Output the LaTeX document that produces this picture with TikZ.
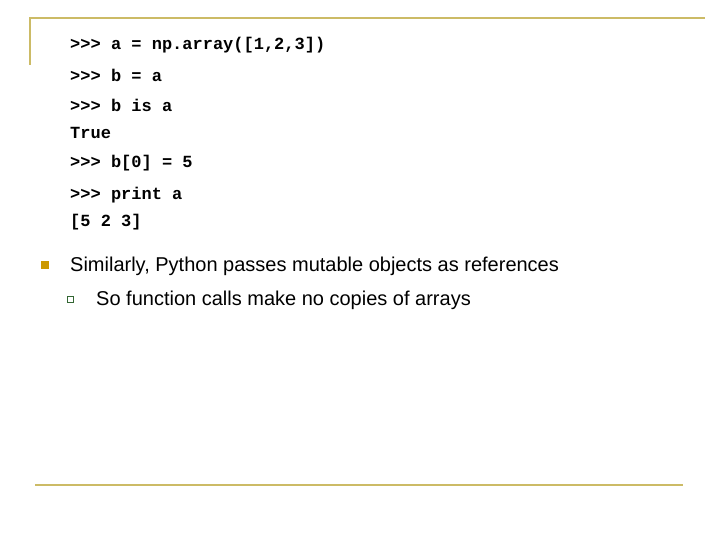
\documentclass[tikz,border=0pt]{standalone}
\usepackage{fontspec}
\setmainfont{Liberation Sans}
\newfontfamily\codefont{Liberation Mono}
\definecolor{olive}{RGB}{204,187,102}
\definecolor{gold}{RGB}{204,153,0}
\definecolor{bgreen}{RGB}{51,102,51}
\begin{document}
\begin{tikzpicture}[x=1pt,y=-1pt,
  code/.style={anchor=west,inner sep=0pt,font=\codefont\bfseries\fontsize{17}{20}\selectfont},
  txt/.style={anchor=west,inner sep=0pt,font=\fontsize{20}{24}\selectfont}]
\useasboundingbox (0,0) rectangle (720,540);
\draw[olive,line width=2pt] (30,65) -- (30,18) -- (705,18);
\draw[olive,line width=2pt] (35,485) -- (683,485);
\node[code] (l1) at (70,45) {>>> a = np.array([1,2,3])};
\node[code] (l2) at (70,75) {>>> b = a};
\node[code] (l3) at (70,105) {>>> b is a};
\node[code] (l4) at (70,133) {True};
\node[code] (l5) at (70,163) {>>> b[0] = 5};
\node[code] (l6) at (70,195) {>>> print a};
\node[code] (l7) at (70,222) {[5 2 3]};
\fill[gold] (41,261) rectangle ++(8,8);
\node[txt] (t1) at (70,266) {Similarly, Python passes mutable objects as references};
\draw[bgreen,line width=0.8pt] (67.5,296.5) rectangle ++(6,6);
\node[txt] (t2) at (96,300) {So function calls make no copies of arrays};
\end{tikzpicture}
\end{document}
